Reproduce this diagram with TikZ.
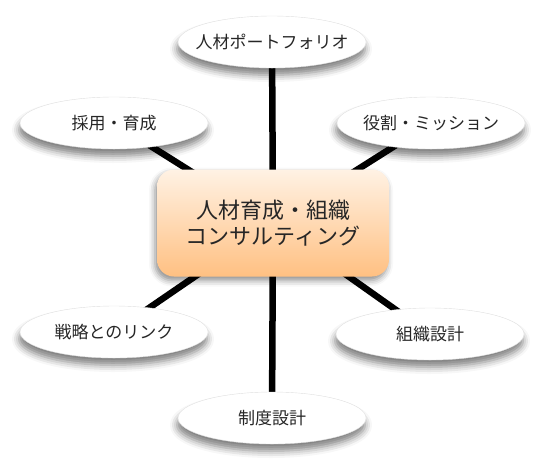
\documentclass[tikz,border=0pt]{standalone}
\usepackage{fontspec}
\setmainfont{Noto Sans CJK JP}
\usetikzlibrary{shapes.geometric,shadows.blur,backgrounds}

\begin{document}
\begin{tikzpicture}[x=1pt,y=-1pt,
    topic/.style={ellipse, fill=white, draw=black!12, minimum width=188pt, minimum height=52pt,
        inner sep=0pt, text=black!85, font=\fontsize{17}{19}\selectfont,
        blur shadow={shadow xshift=-1pt, shadow yshift=-7pt, shadow blur radius=7pt, shadow opacity=50}},
    core/.style={rectangle, rounded corners=17pt, minimum width=232pt, minimum height=107pt,
        top color=coretop, bottom color=corebottom, draw=none, align=center, text=black!85,
        font=\fontsize{22}{26}\selectfont,
        blur shadow={shadow xshift=-2pt, shadow yshift=-4pt, shadow blur radius=6pt, shadow opacity=45}},
    spoke/.style={line width=6.5pt, black}]
    % Define box colors
    \definecolor{coretop}{RGB}{255, 242, 228}
    \definecolor{corebottom}{RGB}{255, 192, 130}

    \useasboundingbox (0,0) rectangle (546,467);

    % Center box
    \node[core] (center) at (273,223) {人材育成・組織\\コンサルティング};

    % Topics around the center
    \foreach \name/\x/\y/\txt in {portfolio/272/42/人材ポートフォリオ,
        hiring/114/123/採用・育成, role/431/123/役割・ミッション,
        strategy/114/332/戦略とのリンク, orgdesign/430/334/組織設計,
        system/272/418/制度設計} {
        \node[topic] (\name) at (\x,\y) {\makebox[0pt][c]{\txt}};
    }

    % Spokes behind the nodes
    \begin{scope}[on background layer]
        \foreach \name in {portfolio, hiring, role, strategy, orgdesign, system} {
            \draw[spoke] (center.center) -- (\name.center);
        }
    \end{scope}

\end{tikzpicture}
\end{document}
